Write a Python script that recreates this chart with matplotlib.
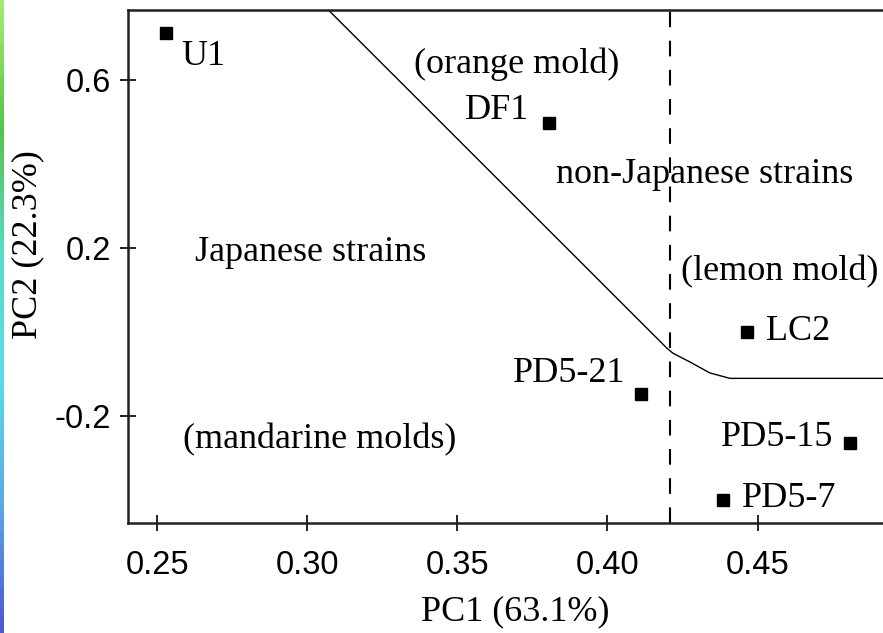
import matplotlib
matplotlib.use("Agg")
import matplotlib.pyplot as plt
import numpy as np
from matplotlib.colors import LinearSegmentedColormap

# strains (PC1, PC2)
strains = ["U1", "DF1", "PD5-21", "LC2", "PD5-15", "PD5-7"]
pc1 = [0.253, 0.3805, 0.4112, 0.4465, 0.4808, 0.4384]
pc2 = [0.712, 0.497, -0.148, 0.0, -0.265, -0.401]

# label offsets (points) and alignment per strain
label_offsets = [(11, -17), (-14, 9), (-11, 15), (14, 0), (-12, 4), (14, 1)]
label_ha = ["left", "right", "right", "left", "right", "left"]

# boundary between Japanese and non-Japanese strains
boundary_x = [0.3069, 0.4198, 0.4218, 0.4275, 0.4341, 0.4408, 0.50]
boundary_y = [0.768, -0.039, -0.051, -0.072, -0.098, -0.111, -0.111]
split_pc1 = 0.4208

# region labels
regions = ["(orange mold)", "non-Japanese strains", "Japanese strains",
           "(lemon mold)", "(mandarine molds)"]
region_x = [0.3699, 0.4325, 0.3013, 0.4575, 0.3043]
region_y = [0.638, 0.374, 0.190, 0.142, -0.258]

xticks = [0.25, 0.30, 0.35, 0.40, 0.45]
yticks = [-0.2, 0.2, 0.6]

serif = "Liberation Serif"
sans = "Liberation Sans"
fs = 26

fig = plt.figure(figsize=(8.83, 6.33), dpi=100)
ax = fig.add_axes([128 / 883, 1 - 522.5 / 633, 1 - 128 / 883, (522.5 - 9.5) / 633])

ax.plot(boundary_x, boundary_y, color="black", lw=1.0)
ax.axvline(split_pc1, color="black", lw=1.5, dashes=(7.5, 6.5))
ax.plot(pc1, pc2, "s", color="black", ms=9)

for name, x, y, off, ha in zip(strains, pc1, pc2, label_offsets, label_ha):
    ax.annotate(name, (x, y), xytext=off, textcoords="offset points",
                ha=ha, va="center", fontsize=fs, family=serif)

for txt, x, y in zip(regions, region_x, region_y):
    ax.text(x, y, txt, ha="center", va="center", fontsize=fs, family=serif)

ax.set_xlim(0.2403, 0.4918)
ax.set_ylim(-0.4545, 0.768)
ax.set_xticks(xticks)
ax.set_xticklabels([f"{t:.2f}" for t in xticks], family=sans, fontsize=23.5)
ax.set_yticks(yticks)
ax.set_yticklabels([f"{t:.1f}" for t in yticks], family=sans, fontsize=23.5)
ax.tick_params(direction="inout", length=12, width=1.2)
ax.tick_params(axis="x", pad=14)
ax.tick_params(axis="y", pad=6)
ax.spines["right"].set_visible(False)
for s in ["left", "top", "bottom"]:
    ax.spines[s].set_linewidth(1.8)
    ax.spines[s].set_color("#202020")

fig.text(515 / 883, 1 - 612 / 633, "PC1 (63.1%)", ha="center", va="center",
         fontsize=fs, family=serif)
fig.text(28 / 883, 1 - 245 / 633, "PC2 (22.3%)", ha="center", va="center",
         rotation=90, fontsize=fs, family=serif)

# thin colour strip at the left edge of the screenshot
strip = fig.add_axes([0, 0, 4 / 883, 1])
cmap = LinearSegmentedColormap.from_list(
    "strip", ["#a8e878", "#58c050", "#60d8c8", "#60d8e8", "#60a8e0", "#5058d0"])
strip.imshow(np.linspace(0, 1, 100).reshape(-1, 1), aspect="auto", cmap=cmap)
strip.axis("off")

fig.savefig("out.png", dpi=100)
